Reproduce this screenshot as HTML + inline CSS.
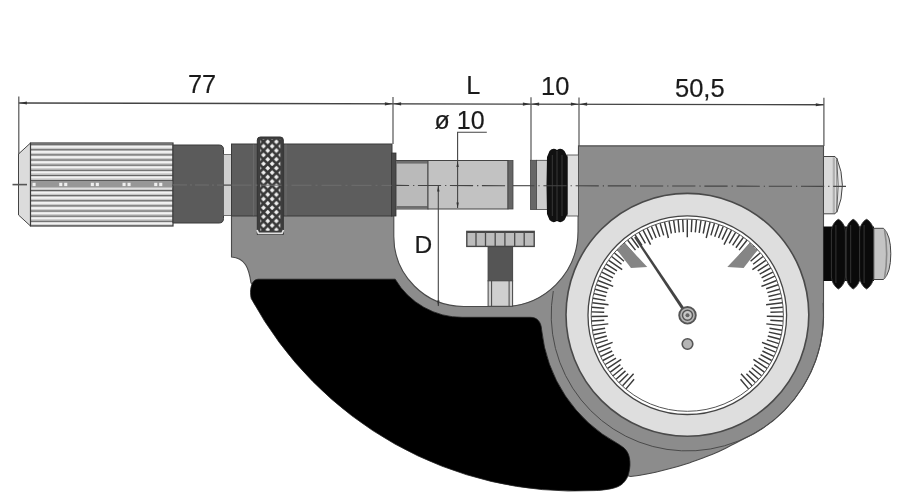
<!DOCTYPE html>
<html><head><meta charset="utf-8"><style>
html,body{margin:0;padding:0;background:#fff;}
svg{display:block;will-change:transform;}
text{font-family:"Liberation Sans",sans-serif;fill:#1a1a1a;stroke:#1a1a1a;stroke-width:0.2px;}
</style></head><body>
<svg width="900" height="502" viewBox="0 0 900 502">
<defs>
<pattern id="knurl" x="0" y="149.4" width="10" height="5.1" patternUnits="userSpaceOnUse">
<rect width="10" height="5.1" fill="#c2c2c2"/>
<rect y="1" width="10" height="2.6" fill="#f2f2f2"/>
<rect y="0" width="10" height="1.05" fill="#4e4e4e"/>
</pattern>
<pattern id="diamond" x="261.35" y="139.6" width="8.6" height="8.8" patternUnits="userSpaceOnUse">
<rect width="8.6" height="8.8" fill="#383838"/>
<path d="M6.45 -0.3 L8.95 2.2 L6.45 4.7 L3.95 2.2 Z M2.15 4.1 L4.65 6.6 L2.15 9.1 L-0.35 6.6 Z M10.75 4.1 L13.25 6.6 L10.75 9.1 L8.25 6.6 Z M6.45 8.5 L8.95 11 L6.45 13.5 L3.95 11 Z" fill="#efefef"/>
</pattern>
</defs>
<path d="M231.5 200 L393.8 200 L393.8 236.5 A70 70 0 0 0 463.8 306.5 L503 306.5 A75 75 0 0 0 578 231.5 L578.5 145.9 L823.5 145.9 L823.5 314.8 A136.2 136.2 0 0 1 745 438.2 C743 439.2 737.8 441.9 733.3 444.2 C728.8 446.5 723 449.7 717.8 452 C712.6 454.3 707.4 456.2 702.2 458.2 C697 460.1 691.9 462 686.7 463.7 C681.5 465.4 676.3 466.9 671.1 468.3 C665.9 469.7 660.8 471 655.6 472.2 C650.4 473.4 644.1 474.6 640 475.3 C635.9 476 632.2 476.3 630.7 476.5 L560 460 L400 400 L300 330 L262 292 L251 283 C249 268 245 258 231.5 257 Z" fill="#8c8c8c" stroke="#4a4a4a" stroke-width="1.1"/>
<path d="M553.3 291 A136.2 136.2 0 1 0 823.1 302.9" fill="none" stroke="#4a4a4a" stroke-width="1"/>
<path d="M258 279.2 L395.2 279.2 A77.8 77.8 0 0 0 462.5 317.3 L530.5 317.3 C537 317.3 541.1 321.6 541.6 329.6 A146.5 146.5 0 0 0 617.5 443.5 C618.6 444.3 622.5 446.5 624.3 448.3 C626.1 450.1 627.5 452 628.4 454.2 C629.3 456.4 629.7 458.9 629.9 461.5 C630.1 464.1 630 466.7 629.5 469.5 C629 472.3 628.2 475.8 626.8 478.3 C625.4 480.8 623.5 483.1 621.3 484.7 C619 486.3 616.7 487.3 613.3 488.2 C609.9 489.1 604.2 489.8 601 490.2 C597.8 490.6 595.2 490.5 594 490.6 A368.7 368.7 0 0 1 251.2 298.5 C249.6 292 250.5 279.5 258 279.2 Z" fill="#000" stroke="#222" stroke-width="0.8"/>
<circle cx="687.4" cy="314.8" r="121.4" fill="#dedede" stroke="#4a4a4a" stroke-width="1.6"/>
<circle cx="687.3" cy="315.2" r="99.3" fill="#fff" stroke="#444" stroke-width="1.3"/>
<circle cx="687.3" cy="315.2" r="96.1" fill="none" stroke="#555" stroke-width="1"/>
<path d="M626 388.9L634.1 379.2 M622.6 385.8L633.6 373.8 M619.3 382.6L628.2 373.8 M616.1 379.3L625.5 370.9 M613.1 375.8L622.9 367.8 M610.3 372.2L620.4 364.7 M607.6 368.4L621.2 359.4 M605.2 364.5L616 358.1 M602.9 360.5L614 354.6 M600.8 356.4L612.2 351 M599 352.2L610.6 347.4 M597.3 348L612.6 342.4 M595.8 343.6L607.8 339.9 M594.6 339.2L606.8 336 M593.5 334.7L605.8 332.1 M592.7 330.2L605.1 328.2 M592.1 325.6L608.3 323.9 M591.7 321L604.3 320.3 M591.5 316.5L607.8 316.2 M591.6 311.9L604.2 312.3 M591.8 307.3L604.4 308.3 M592.3 302.7L608.5 304.8 M593 298.2L605.4 300.4 M594 293.6L606.2 296.5 M595.1 289.2L607.2 292.6 M596.5 284.8L608.4 288.8 M598 280.5L613.2 286.4 M599.8 276.2L611.3 281.4 M601.8 272.1L613 277.8 M603.9 268L614.9 274.2 M606.3 264.1L616.9 270.8 M608.8 260.3L622.2 269.6 M611.6 256.5L621.5 264.3 M614.5 253L624 261.2 M617.5 249.6L626.7 258.2 M620.8 246.3L629.5 255.4 M624.1 243.2L634.9 255.4 M627.7 240.2L635.5 250.1 M631.3 237.5L638.7 247.7 M635.1 234.9L642 245.4 M639 232.4L645.4 243.3 M643.1 230.2L650.6 244.7 M647.2 228.2L652.5 239.6 M651.4 226.4L656.1 238.1 M655.7 224.8L659.9 236.7 M660.1 223.3L663.7 235.4 M664.5 222.1L668.4 238 M669 221.2L671.4 233.5 M673.6 220.4L675.4 232.9 M678.1 219.8L679.3 232.4 M682.7 219.5L683.3 232.1 M687.3 219.4L687.3 237.2 M691.9 219.5L691.3 232.1 M696.5 219.8L695.3 232.4 M701 220.4L699.2 232.9 M705.6 221.2L703.2 233.5 M710.1 222.1L706.2 238 M714.5 223.3L710.9 235.4 M718.9 224.8L714.7 236.7 M723.2 226.4L718.5 238.1 M727.4 228.2L722.1 239.6 M731.5 230.2L724 244.7 M735.6 232.4L729.2 243.3 M739.5 234.9L732.6 245.4 M743.3 237.5L735.9 247.7 M746.9 240.2L739.1 250.1 M750.5 243.2L739.7 255.4 M753.8 246.3L745.1 255.4 M757.1 249.6L747.9 258.2 M760.1 253L750.6 261.2 M763 256.5L753.1 264.3 M765.8 260.3L752.4 269.6 M768.3 264.1L757.7 270.8 M770.7 268L759.7 274.2 M772.8 272.1L761.6 277.8 M774.8 276.2L763.3 281.4 M776.6 280.5L761.4 286.4 M778.1 284.8L766.2 288.8 M779.5 289.2L767.4 292.6 M780.6 293.6L768.4 296.5 M781.6 298.2L769.2 300.4 M782.3 302.7L766.1 304.8 M782.8 307.3L770.2 308.3 M783 311.9L770.4 312.3 M783.1 316.5L766.8 316.2 M782.9 321L770.3 320.3 M782.5 325.6L766.3 323.9 M781.9 330.2L769.5 328.2 M781.1 334.7L768.8 332.1 M780 339.2L767.8 336 M778.8 343.6L766.8 339.9 M777.3 348L762 342.4 M775.6 352.2L764 347.4 M773.8 356.4L762.4 351 M771.7 360.5L760.6 354.6 M769.4 364.5L758.6 358.1 M767 368.4L753.4 359.4 M764.3 372.2L754.2 364.7 M761.5 375.8L751.7 367.8 M758.5 379.3L749.1 370.9 M755.3 382.6L746.4 373.8 M752 385.8L741 373.8 M748.6 388.9L740.5 379.2" stroke="#3a3a3a" stroke-width="1.45" fill="none"/>
<path d="M617.2 250.2 A95.6 95.6 0 0 1 624.6 243 L647.3 267 L631 268 Z" fill="#858585"/>
<path d="M757.4 250.2 A95.6 95.6 0 0 0 750 243 L727.3 267 L743.6 268 Z" fill="#858585"/>
<path d="M634.1 237.6 L686 316.1 L688.6 314.3 L635.9 236.4 Z" fill="#444"/>
<circle cx="687.5" cy="315.3" r="8.3" fill="#b5b5b5" stroke="#555" stroke-width="1.9"/>
<circle cx="687.5" cy="315.3" r="5" fill="#c8c8c8" stroke="#555" stroke-width="1.5"/>
<circle cx="687.5" cy="315.3" r="2" fill="#666"/>
<circle cx="687.5" cy="344" r="5.3" fill="#b5b5b5" stroke="#555" stroke-width="1.6"/>
<path d="M18.5 154 L30.5 143 L30.5 226 L18.5 215 Z" fill="#dcdcdc" stroke="#444" stroke-width="1"/>
<rect x="30.5" y="143" width="142.5" height="83" fill="url(#knurl)" stroke="#3a3a3a" stroke-width="1.2"/>
<rect x="31" y="181" width="141.5" height="6.6" fill="#979797"/>
<rect x="32.5" y="182.8" width="3.1" height="3.3" fill="#eee"/>
<rect x="59.2" y="182.8" width="3.1" height="3.3" fill="#eee"/>
<rect x="64.2" y="182.8" width="3.1" height="3.3" fill="#eee"/>
<rect x="90.8" y="182.8" width="3.1" height="3.3" fill="#eee"/>
<rect x="95.8" y="182.8" width="3.1" height="3.3" fill="#eee"/>
<rect x="122.5" y="182.8" width="3.1" height="3.3" fill="#eee"/>
<rect x="127.5" y="182.8" width="3.1" height="3.3" fill="#eee"/>
<rect x="154.2" y="182.8" width="3.1" height="3.3" fill="#eee"/>
<rect x="159.2" y="182.8" width="3.1" height="3.3" fill="#eee"/>
<path d="M173 145 L219 145 Q223.5 145 223.5 149.5 L223.5 218.5 Q223.5 223 219 223 L173 223 Z" fill="#5b5b5b" stroke="#3a3a3a" stroke-width="1"/>
<rect x="223.5" y="154.6" width="8" height="61" fill="#cfcfcf" stroke="#555" stroke-width="0.8"/>
<rect x="231.5" y="144" width="160.5" height="72" fill="#5d5d5d" stroke="#3a3a3a" stroke-width="1"/>
<path d="M253.6 144.5V215.5M286 144.5V215.5" stroke="#6c6c6c" stroke-width="1"/>
<rect x="391.5" y="153" width="4.5" height="63" fill="#4a4a4a" stroke="#333" stroke-width="0.8"/>
<path d="M257.3 234.5 L257.3 140 Q257.3 137 260.3 137 L280.3 137 Q283.3 137 283.3 140 L283.3 234.5 Z" fill="#3e3e3e" stroke="#333" stroke-width="1"/>
<rect x="260.3" y="139.3" width="20" height="91.5" fill="url(#diamond)"/>
<path d="M257 230 L258.5 233.3 L282 233.3 L283.5 230" fill="none" stroke="#e0e0e0" stroke-width="1.8"/>
<rect x="396" y="160.5" width="32" height="48.5" fill="#bababa" stroke="#444" stroke-width="1"/>
<rect x="396" y="161" width="32" height="2.6" fill="#6e6e6e"/>
<rect x="396" y="206" width="32" height="2.6" fill="#6e6e6e"/>
<rect x="428" y="160.5" width="80" height="48.5" fill="#c2c2c2" stroke="#444" stroke-width="1"/>
<rect x="508" y="160.5" width="5" height="48.5" fill="#666" stroke="#444" stroke-width="0.8"/>
<rect x="530.5" y="160.3" width="6" height="49.2" fill="#666" stroke="#444" stroke-width="0.8"/>
<rect x="536.5" y="160.3" width="11.5" height="49.2" fill="#cdcdcd" stroke="#444" stroke-width="0.8"/>
<rect x="567" y="155" width="11.5" height="61" fill="#dedede" stroke="#444" stroke-width="0.8"/>
<path d="M549.5 151 Q553 147.3 557 150 Q561 147.3 564.5 151 L567.6 157 L567.6 214 L564.5 220 Q561 223.7 557 221 Q553 223.7 549.5 220 L547 214 Q546 185 547 157 Z" fill="#111"/>
<path d="M557 151V220M552.3 155V216M562 155V216" stroke="#3c3c3c" stroke-width="0.9"/>
<path d="M823.5 156.5 L835 156.5 L837 159 L837 211 L835 213.8 L823.5 213.8 Z" fill="#dadada" stroke="#444" stroke-width="1"/>
<path d="M836.8 158 Q848 185.3 836.8 212.5" fill="#e4e4e4" stroke="#444" stroke-width="1"/>
<path d="M836.8 160 Q839.6 185.3 836.8 210.5" fill="none" stroke="#666" stroke-width="1"/>
<path d="M833.8 157.3V213" stroke="#b0b0b0" stroke-width="2.2"/>
<rect x="823.5" y="226.5" width="50.5" height="54.5" fill="#080808"/>
<path d="M838.4 219.3 C841.9 221 845.4 226 845.4 232 L845.4 276 C845.4 282 841.9 287 838.4 289 C834.9 287 831.4 282 831.4 276 L831.4 232 C831.4 226 834.9 221 838.4 219.3 Z" fill="#0a0a0a" stroke="#3a3a3a" stroke-width="0.9"/>
<path d="M835.9 225V283" stroke="#3a3a3a" stroke-width="0.9"/>
<path d="M853.2 219.3 C856.7 221 860.2 226 860.2 232 L860.2 276 C860.2 282 856.7 287 853.2 289 C849.7 287 846.2 282 846.2 276 L846.2 232 C846.2 226 849.7 221 853.2 219.3 Z" fill="#0a0a0a" stroke="#3a3a3a" stroke-width="0.9"/>
<path d="M850.7 225V283" stroke="#3a3a3a" stroke-width="0.9"/>
<path d="M866.6 219.3 C870.1 221 873.6 226 873.6 232 L873.6 276 C873.6 282 870.1 287 866.6 289 C863.1 287 859.6 282 859.6 276 L859.6 232 C859.6 226 863.1 221 866.6 219.3 Z" fill="#0a0a0a" stroke="#3a3a3a" stroke-width="0.9"/>
<path d="M864.1 225V283" stroke="#3a3a3a" stroke-width="0.9"/>
<path d="M873.8 228.3 L883.5 228.3 Q890.8 235 890.8 253.8 Q890.8 273 883.5 279.5 L873.8 279.5 Z" fill="#c4c4c4" stroke="#444" stroke-width="1"/>
<path d="M884.5 229.5 Q888.8 253.8 884.5 278.3" fill="none" stroke="#8a8a8a" stroke-width="1.6"/>
<rect x="466.8" y="231.4" width="67.4" height="15" fill="#bcbcbc" stroke="#474747" stroke-width="1.4"/>
<path d="M466.8 232.3H534.2" stroke="#474747" stroke-width="1.2"/>
<path d="M476 231.4V246.4 M485.5 231.4V246.4 M495.2 231.4V246.4 M504.9 231.4V246.4 M514.7 231.4V246.4 M524.2 231.4V246.4" stroke="#4a4a4a" stroke-width="1.3"/>
<rect x="488.1" y="246.6" width="24.5" height="34.2" fill="#555" stroke="#444" stroke-width="1"/>
<rect x="488.1" y="280.8" width="24.5" height="25.5" fill="#cfcfcf" stroke="#444" stroke-width="1"/>
<path d="M491.6 280.8V306M509.1 280.8V306" stroke="#444" stroke-width="1"/>
<path d="M18.8 103L823.9 104.75" stroke="#444" stroke-width="1.3"/>
<path d="M18.8 96.6V154M393 97V144M531 97.3V160M579 97.4V146M823.9 97.8V146" stroke="#555" stroke-width="1.2"/>
<path d="M19.4 103 L26.9 101.4 L26.9 104.6 Z" fill="#333"/>
<path d="M392.4 103.8 L384.9 102.2 L384.9 105.4 Z" fill="#333"/>
<path d="M393.6 103.8 L401.1 102.2 L401.1 105.4 Z" fill="#333"/>
<path d="M530.4 104.1 L522.9 102.5 L522.9 105.7 Z" fill="#333"/>
<path d="M531.6 104.1 L539.1 102.5 L539.1 105.7 Z" fill="#333"/>
<path d="M578.4 104.2 L570.9 102.6 L570.9 105.8 Z" fill="#333"/>
<path d="M579.6 104.2 L587.1 102.6 L587.1 105.8 Z" fill="#333"/>
<path d="M823.3 104.8 L815.8 103.2 L815.8 106.3 Z" fill="#333"/>
<path d="M486.8 132.2H457.6V208" stroke="#444" stroke-width="1.1" fill="none"/>
<path d="M457.6 161.2 L456.4 167 L458.8 167 Z M457.6 208.3 L456.4 202.5 L458.8 202.5 Z" fill="#333"/>
<path d="M438.3 186V306" stroke="#444" stroke-width="1.1"/>
<path d="M438.3 185.6 L437.1 191.4 L439.5 191.4 Z M438.3 306.2 L437.1 300.4 L439.5 300.4 Z" fill="#333"/>
<path d="M12.5 184.6L27 184.6" stroke="#555" stroke-width="1.6"/>
<path d="M173 184.9L223.5 185.1" stroke="#6e6e6e" stroke-width="1" stroke-dasharray="14 3 2 3" fill="none"/>
<path d="M231.5 185.1L391.5 185.4" stroke="#6e6e6e" stroke-width="1" stroke-dasharray="20 4 2 4" fill="none"/>
<path d="M223.5 185.1L231.5 185.1" stroke="#444" stroke-width="1.2"/>
<path d="M396 185.4L507 185.7" stroke="#444" stroke-width="1.1" stroke-dasharray="23.2 4 1.2 3.6" stroke-dashoffset="10.1" fill="none"/>
<path d="M513 185.7L531 185.7" stroke="#444" stroke-width="1.1"/>
<path d="M531 185.7L846 186.4" stroke="#444" stroke-width="1.1" stroke-dasharray="23.2 4 1.2 3.8" stroke-dashoffset="19.8" fill="none"/>
<text x="187.9" y="93.2" font-size="25.3">77</text>
<text x="466.2" y="94.1" font-size="25.3">L</text>
<text x="541" y="95" font-size="25.5">10</text>
<text x="675" y="96.5" font-size="25.5">50,5</text>
<text x="434.6" y="129.4" font-size="25">ø 10</text>
<text x="414.6" y="252.8" font-size="24.5">D</text>
</svg>
</body></html>
